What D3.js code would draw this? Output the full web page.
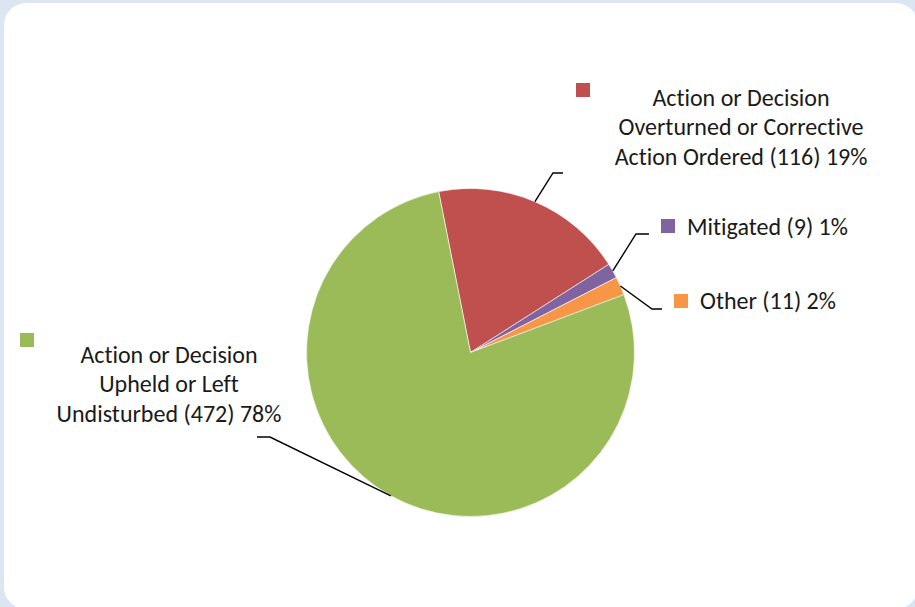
<!DOCTYPE html>
<html>
<head>
<meta charset="utf-8">
<script src="https://cdn.jsdelivr.net/npm/d3@7"></script>
<style>
  html, body { margin: 0; padding: 0; background: #dce6f2; }
  svg { display: block; }
  text { font-family: Carlito, Calibri, "Open Sans", "Noto Sans", sans-serif; fill: #1a1a1a;
         font-variant-ligatures: none; font-feature-settings: "liga" 0, "clig" 0; }
</style>
</head>
<body>
<svg id="chart" width="915" height="607"></svg>
<script>
// Outcome categories and case counts
const categories = [
  "Action or Decision Overturned or Corrective Action Ordered",
  "Mitigated",
  "Other",
  "Action or Decision Upheld or Left Undisturbed"
];
const counts = [116, 9, 11, 472];
const percentLabels = ["19%", "1%", "2%", "78%"];
const labelLines = [
  ["Action or Decision", "Overturned or Corrective", "Action Ordered (116) 19%"],
  ["Mitigated (9) 1%"],
  ["Other (11) 2%"],
  ["Action or Decision", "Upheld or Left", "Undisturbed (472) 78%"]
];
const colors = ["#c0504d", "#8064a2", "#f79646", "#9bbb59"];

const svg = d3.select("#chart");

// Rounded white chart area
svg.append("rect")
  .attr("x", 4).attr("y", 3)
  .attr("width", 914).attr("height", 606)
  .attr("rx", 22).attr("ry", 22)
  .attr("fill", "#ffffff");

const cx = 470.5, cy = 352.5, radius = 164;
const start = -11.2 * Math.PI / 180;

const pie = d3.pie().sort(null).value(d => d)
  .startAngle(start).endAngle(start + 2 * Math.PI);
const arcs = pie(counts);

const arc = d3.arc().innerRadius(0).outerRadius(radius);
const edge = d3.arc().innerRadius(radius).outerRadius(radius);

const g = svg.append("g").attr("transform", `translate(${cx},${cy})`);
g.selectAll("path.slice")
  .data(arcs)
  .join("path")
  .attr("class", "slice")
  .attr("d", arc)
  .attr("fill", (d, i) => colors[i])
  .attr("stroke", "#ffffff")
  .attr("stroke-width", 0.6);

// Label layout: elbow point, end of leader, legend key and text block
const layout = [
  { elbow: [553, 173], end: [563, 173], key: [576, 83], textX: 741, baseY: 106, anchor: "middle" },
  { elbow: [636, 234], end: [649, 234], key: [661, 219], textX: 687, baseY: 235, anchor: "start" },
  { elbow: [652, 309], end: [662, 309], key: [674, 294], textX: 700, baseY: 309, anchor: "start" },
  { elbow: [270, 437], end: [257, 437], key: [20, 333], textX: 169, baseY: 363, anchor: "middle" }
];
const lineH = 29.3;

arcs.forEach((d, i) => {
  const p = edge.centroid(d);
  const L = layout[i];
  svg.append("polyline")
    .attr("points", [[cx + p[0], cy + p[1]], L.elbow, L.end].map(q => q.join(",")).join(" "))
    .attr("fill", "none")
    .attr("stroke", "#000")
    .attr("stroke-width", 1.4);

  svg.append("rect")
    .attr("x", L.key[0]).attr("y", L.key[1])
    .attr("width", 14).attr("height", 14)
    .attr("fill", colors[i]);

  const t = svg.append("text")
    .attr("text-anchor", L.anchor)
    .attr("font-size", 24);
  labelLines[i].forEach((line, j) => {
    t.append("tspan")
      .attr("x", L.textX)
      .attr("y", L.baseY + j * lineH)
      .text(line);
  });
});
</script>
</body>
</html>
